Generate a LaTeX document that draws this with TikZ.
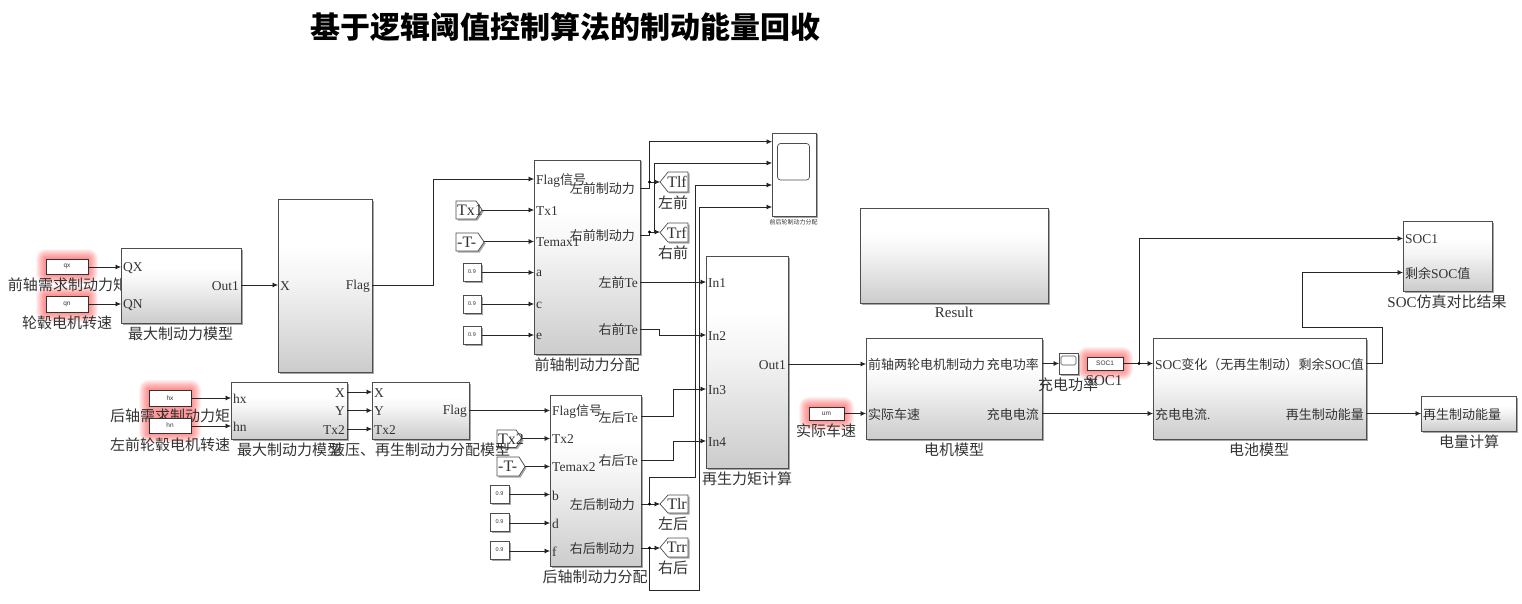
\documentclass[tikz,border=0pt]{standalone}
\usepackage{fontspec}
\setmainfont{Liberation Serif}
\newfontfamily\cjk{Noto Sans CJK SC}
\newfontfamily\cjkp[Scale=0.963]{Noto Sans CJK SC}
\setsansfont{Liberation Sans}
\usetikzlibrary{arrows.meta,calc}
\definecolor{frame}{HTML}{4d4d4d}
\definecolor{txt}{HTML}{333333}
\pgfdeclareverticalshading{blkshade}{100bp}{color(0bp)=(white); color(25bp)=(black!20); color(52bp)=(black!4); color(62bp)=(white); color(100bp)=(white)}
\newcommand{\Z}[1]{{\cjk #1}}
\newcommand{\Zp}[1]{{\cjkp #1}}
\tikzset{
  lbl/.style={inner sep=0pt,yshift=-0.5pt,font=\fontsize{15}{15}\selectfont,text=txt},
  portl/.style={inner sep=0pt,yshift=-1pt,anchor=west,font=\let\Z\Zp\fontsize{13.5}{15}\selectfont,text=txt},
  portr/.style={inner sep=0pt,yshift=-1pt,anchor=east,font=\let\Z\Zp\fontsize{13.5}{15}\selectfont,text=txt},
  wire/.style={draw=black!85,line width=0.7pt},
  arr/.style={wire,-{Latex[length=5.5pt,width=5pt]}},
  tiny/.style={font=\sffamily\fontsize{6.5}{7}\selectfont,text=txt},
}
\newcommand{\blk}[5]{%
  \fill[black!35] (#2+1.5,#3+1.5) rectangle (#4+1.5,#5+1.5);
  \path[shading=blkshade,draw=frame,line width=0.7pt] (#2,#3) rectangle (#4,#5);
  \coordinate (#1) at (#2,#3);
}
\newcommand{\whitebox}[5]{%
  \fill[black!35] (#2+1.5,#3+1.5) rectangle (#4+1.5,#5+1.5);
  \draw[frame,fill=white,line width=0.7pt] (#2,#3) rectangle (#4,#5);
  \coordinate (#1) at (#2,#3);
}
\newcommand{\glow}[4]{%
  \foreach \r in {10,9,8,7,6,5,4,3,2,1}{
    \fill[red,opacity=0.055,rounded corners=\r pt] (#1-\r,#2-\r) rectangle (#3+\r,#4+\r);
  }
}
\begin{document}
\begin{tikzpicture}[x=1pt,y=-1pt]
\useasboundingbox (0,0) rectangle (1522,604);
\node[inner sep=0pt,font=\fontsize{30}{32}\selectfont\bfseries\cjk,text=black] (title) at (565,27) {基于逻辑阈值控制算法的制动能量回收};

% glows
\glow{46}{259}{88}{274}
\glow{46}{296}{88}{312}
\glow{149}{390}{191}{406}
\glow{149}{418}{191}{433}
\glow{809}{407}{844}{420}
\glow{1087}{357}{1123}{370}

% labels under the blocks (blocks cover them)
\node[lbl] (l1) at (68,284) {\Z{前轴需求制动力矩}};
\node[lbl] (l2) at (67,322) {\Z{轮毂电机转速}};
\node[lbl] (l3) at (170,415) {\Z{后轴需求制动力矩}};
\node[lbl] (l4) at (170,444) {\Z{左前轮毂电机转速}};

% subsystem blocks
\blk{bmax}{121}{248}{241}{323}
\blk{bx}{278}{199}{372}{372}
\blk{bhx}{231}{382}{347}{439}
\blk{bhy}{372}{382}{469}{439}
\blk{bfr}{534}{160}{640}{354}
\blk{brr}{550}{395}{641}{566}
\blk{breg}{706}{256}{788}{468}
\blk{bres}{860}{208}{1048}{303}
\blk{bmot}{866}{338}{1042}{439}
\blk{bbat}{1153}{338}{1366}{439}
\blk{bsoc}{1403}{221}{1492}{291}
\blk{bel}{1421}{396}{1516}{431}

% red source blocks
\foreach \n/\xa/\ya/\xb/\yb/\t in {qx/46/259/88/274/qx,qn/46/296/88/312/qn,hx/149/390/191/406/hx,hn/149/418/191/433/hn,um/809/407/844/420/um,soc/1087/357/1123/370/SOC1}{
  \draw[black!80,fill=white,line width=0.7pt] (\xa,\ya) rectangle (\xb,\yb);
  \node[tiny,inner sep=0pt] (s\n) at ({(\xa+\xb)/2},{(\ya+\yb)/2}) {\t};
}

% constants
\foreach \n/\xa/\ya in {a/463/263,c/463/295,e/463/326,b/490.5/485,d/490.5/513,f/490.5/541}{
  \whitebox{k\n}{\xa}{\ya}{\xa+18.5}{\ya+18.5}
  \node[tiny,inner sep=0pt,font=\sffamily\fontsize{5.5}{6}\selectfont] (t\n) at (\xa+9,\ya+9) {0.9};
}

% from tags
\newcommand{\fromtag}[6]{%
  \fill[black!35] (#2+1.5,#3+1.5) -- (#4-6+1.5,#3+1.5) -- (#4+1.5,{(#3+#5)/2+1.5}) -- (#4-6+1.5,#5+1.5) -- (#2+1.5,#5+1.5) -- cycle;
  \draw[frame,fill=white,line width=0.7pt] (#2,#3) -- (#4-6,#3) -- (#4,{(#3+#5)/2}) -- (#4-6,#5) -- (#2,#5) -- cycle;
  \node[inner sep=0pt,anchor=west,font=\fontsize{16}{16}\selectfont,text=txt] (#1) at (#2+1,{(#3+#5)/2}) {#6};
}
\newcommand{\gototag}[6]{%
  \fill[black!35] (#2+1.5,{(#3+#5)/2+1.5}) -- (#2+8+1.5,#3+1.5) -- (#4+1.5,#3+1.5) -- (#4+1.5,#5+1.5) -- (#2+8+1.5,#5+1.5) -- cycle;
  \draw[frame,fill=white,line width=0.7pt] (#2,{(#3+#5)/2}) -- (#2+8,#3) -- (#4,#3) -- (#4,#5) -- (#2+8,#5) -- cycle;
  \node[inner sep=0pt,anchor=east,font=\fontsize{16}{16}\selectfont,text=txt] (#1) at (#4-1,{(#3+#5)/2}) {#6};
}
\fromtag{ftx1}{456}{201}{482}{219}{Tx1}
\fromtag{ftm1}{456}{233}{484}{251}{-T-}
\fromtag{ftx2}{497}{430}{522}{447.5}{Tx2}
\fromtag{ftm2}{497}{457}{525}{476}{-T-}
\gototag{gtlf}{660}{172}{688}{192}{Tlf}
\gototag{gtrf}{660}{223}{688}{242}{Trf}
\gototag{gtlr}{660}{495}{688}{513}{Tlr}
\gototag{gtrr}{660}{538}{688}{557}{Trr}

% scopes
\whitebox{sc1}{772}{133}{816}{216}
\draw[frame,line width=0.7pt,rounded corners=3pt] (777.5,143.5) rectangle (809.5,180);
\whitebox{sc2}{1059}{353}{1078}{374}
\draw[frame,line width=0.6pt,rounded corners=1.5pt] (1061,356) rectangle (1076,365);

% wires
\coordinate (jlf) at (649.5,182);
\coordinate (jrf) at (649.5,232);
\coordinate (jlr) at (649.5,504);
\coordinate (jrr) at (649.5,548);
\draw[arr] (88,267)--(121,267);
\draw[arr] (88,304)--(121,304);
\draw[arr] (241,285)--(278,285);
\draw[arr] (372,285)--(433,285)--(433,179)--(534,179);
\draw[arr] (191,398)--(231,398);
\draw[arr] (191,426)--(231,426);
\draw[arr] (347,392)--(372,392);
\draw[arr] (347,410.5)--(372,410.5);
\draw[arr] (347,429)--(372,429);
\draw[arr] (469,410.5)--(550,410.5);
\draw[arr] (482,210)--(534,210);
\draw[arr] (484,241.5)--(534,241.5);
\draw[arr] (481.5,272.5)--(534,272.5);
\draw[arr] (481.5,304)--(534,304);
\draw[arr] (481.5,335)--(534,335);
\draw[arr] (522,438.5)--(550,438.5);
\draw[arr] (525,466.5)--(550,466.5);
\draw[arr] (509,494.5)--(550,494.5);
\draw[arr] (509,523)--(550,523);
\draw[arr] (509,551)--(550,551);
\draw[wire] (640,188)--(649.5,188)--(jlf);
\draw[arr] (jlf)--(660,182);
\draw[arr] (jlf)--(649.5,141.7)--(772,141.7);
\draw[wire] (640,235)--(649.5,235)--(jrf);
\draw[arr] (jrf)--(660,232);
\draw[arr] (654.5,232)--(654.5,163)--(772,163);
\draw[arr] (641,504)--(660,504);
\draw[wire] (jlr)--(649.5,477)--(695,477)--(695,185);
\draw[arr] (695,185)--(772,185);
\draw[arr] (641,548)--(660,548);
\draw[wire] (jrr)--(649.5,590)--(699.5,590)--(699.5,207);
\draw[arr] (699.5,207)--(772,207);
\draw[arr] (640,282)--(706,282);
\draw[arr] (640,329)--(659.5,329)--(659.5,335)--(706,335);
\draw[arr] (641,416.5)--(673,416.5)--(673,389)--(706,389);
\draw[arr] (641,460)--(673,460)--(673,441)--(706,441);
\draw[arr] (788,364)--(866,364);
\draw[arr] (844,413.5)--(866,413.5);
\draw[arr] (1042,363.5)--(1059,363.5);
\draw[arr] (1123,363.5)--(1153,363.5);
\draw[arr] (1139,363.5)--(1139,238.5)--(1403,238.5);
\draw[arr] (1042,413.5)--(1153,413.5);
\draw[arr] (1366,363.5)--(1382,363.5)--(1382,327)--(1302,327)--(1302,272.5)--(1403,272.5);
\draw[arr] (1366,413.5)--(1421,413.5);
\foreach \p in {jlf,jrf,jlr,jrr}{\fill (\p) circle (1.6);}
\fill (1139,363.5) circle (1.6);

% block labels
\node[lbl] (n1) at (180.5,333) {\Z{最大制动力模型}};
\node[lbl] (n2) at (289.5,449) {\Z{最大制动力模型}};
\node[lbl] (n3) at (420,449) {\Z{液压、再生制动力分配模型}};
\node[lbl] (n4) at (587,364) {\Z{前轴制动力分配}};
\node[lbl] (n5) at (595,576) {\Z{后轴制动力分配}};
\node[lbl] (n6) at (747,478) {\Z{再生力矩计算}};
\node[lbl] (n7) at (954,312) {Result};
\node[lbl] (n8) at (954,449) {\Z{电机模型}};
\node[lbl] (n9) at (1259,449) {\Z{电池模型}};
\node[lbl] (n10) at (1447,301) {SOC\Z{仿真对比结果}};
\node[lbl] (n11) at (1469,441) {\Z{电量计算}};
\node[lbl] (n12) at (826,430) {\Z{实际车速}};
\node[lbl] (n13) at (1068,384) {\Z{充电功率}};
\node[lbl] (n14) at (1104,380) {SOC1};
\node[lbl] (n15) at (673,202) {\Z{左前}};
\node[lbl] (n16) at (673,252) {\Z{右前}};
\node[lbl] (n17) at (673,523) {\Z{左后}};
\node[lbl] (n18) at (673,567) {\Z{右后}};
\node[inner sep=0pt,font=\cjk\fontsize{6}{7}\selectfont,text=txt] (n19) at (793.5,222) {前后轮制动力分配};

% port labels
\node[portl] (p1) at (123,267) {QX};
\node[portl] (p2) at (123,304) {QN};
\node[portr] (p3) at (239,285) {Out1};
\node[portl] (p4) at (280,285) {X};
\node[portr] (p5) at (370,285) {Flag};
\node[portl] (p6) at (233,398) {hx};
\node[portl] (p7) at (233,426) {hn};
\node[portr] (p8) at (345,392) {X};
\node[portr] (p9) at (345,410.5) {Y};
\node[portr] (p10) at (345,429) {Tx2};
\node[portl] (p11) at (374,392) {X};
\node[portl] (p12) at (374,410.5) {Y};
\node[portl] (p13) at (374,429) {Tx2};
\node[portr] (p14) at (467,410.5) {Flag};
\node[portl] (p15) at (536,179) {Flag\Z{信号}};
\node[portl] (p16) at (536,210) {Tx1};
\node[portl] (p17) at (536,241.5) {Temax1};
\node[portl] (p18) at (536,272.5) {a};
\node[portl] (p19) at (536,304) {c};
\node[portl] (p20) at (536,335) {e};
\node[portr] (p21) at (635,188) {\Z{左前制动力}};
\node[portr] (p22) at (635,235) {\Z{右前制动力}};
\node[portr] (p23) at (638,282) {\Z{左前}Te};
\node[portr] (p24) at (638,329) {\Z{右前}Te};
\node[portl] (p25) at (552,410.5) {Flag\Z{信号}};
\node[portl] (p26) at (552,438.5) {Tx2};
\node[portl] (p27) at (552,466.5) {Temax2};
\node[portl] (p28) at (552,494.5) {b};
\node[portl] (p29) at (552,523) {d};
\node[portl] (p30) at (552,551) {f};
\node[portr] (p31) at (638,416.5) {\Z{左后}Te};
\node[portr] (p32) at (638,460) {\Z{右后}Te};
\node[portr] (p33) at (635,504) {\Z{左后制动力}};
\node[portr] (p34) at (635,548) {\Z{右后制动力}};
\node[portl] (p35) at (708,282) {In1};
\node[portl] (p36) at (708,335) {In2};
\node[portl] (p37) at (708,389) {In3};
\node[portl] (p38) at (708,441) {In4};
\node[portr] (p39) at (786,364) {Out1};
\node[portl] (p40) at (868,363.5) {\Z{前轴两轮电机制动力}};
\node[portr] (p41) at (1039,363.5) {\Z{充电功率}};
\node[portl] (p42) at (868,413.5) {\Z{实际车速}};
\node[portr] (p43) at (1039,413.5) {\Z{充电电流}};
\node[portl] (p44) at (1155,363.5) {SOC\Z{变化（无再生制动）}};
\node[portr] (p45) at (1364,363.5) {\Z{剩余}SOC\Z{值}};
\node[portl] (p46) at (1155,413.5) {\Z{充电电流}.};
\node[portr] (p47) at (1364,413.5) {\Z{再生制动能量}};
\node[portl] (p48) at (1405,238.5) {SOC1};
\node[portl] (p49) at (1405,272.5) {\Z{剩余}SOC\Z{值}};
\node[portl] (p50) at (1423,413.5) {\Z{再生制动能量}};
\end{tikzpicture}
\end{document}
